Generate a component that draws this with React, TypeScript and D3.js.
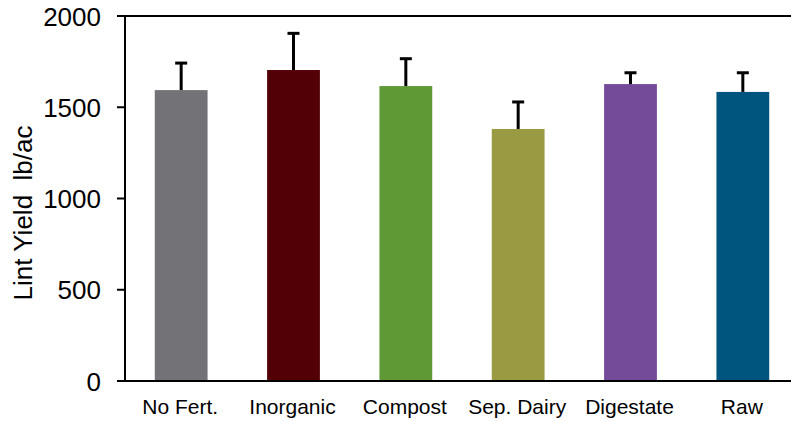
import React from "react";
import * as d3 from "d3";

const categories = ["No Fert.", "Inorganic", "Compost", "Sep. Dairy", "Digestate", "Raw"];
const yieldValues = [1594, 1704, 1616, 1381, 1627, 1584];
const errorTops = [1742, 1905, 1766, 1529, 1689, 1689];
const barColors = ["#737276", "#520006", "#5F9935", "#9A9A42", "#744B98", "#00557F"];
const yTicks = [0, 500, 1000, 1500, 2000];

const W = 791;
const H = 421;
const x0 = 125;
const x1 = 799;
const yTop = 16;
const yBottom = 381;

export default function App() {
  const x = d3.scaleBand<string>().domain(categories).range([x0, x1]).paddingInner(0.53).paddingOuter(0.265);
  const y = d3.scaleLinear().domain([0, 2000]).range([yBottom, yTop]);
  const font = "Liberation Sans, Arial, sans-serif";
  return (
    <svg width={W} height={H} style={{ position: "absolute", left: 0, top: 0, background: "#fff" }}>
      <rect width={W} height={H} fill="#fff" />
      {categories.map((c, i) => {
        const cx = (x(c) as number) + x.bandwidth() / 2;
        return (
          <g key={c}>
            <rect x={x(c)} y={y(yieldValues[i])} width={x.bandwidth()} height={y(0) - y(yieldValues[i])} fill={barColors[i]} />
            <line x1={cx} x2={cx} y1={y(yieldValues[i])} y2={y(errorTops[i])} stroke="#000" strokeWidth={3} />
            <line x1={cx - 6} x2={cx + 6} y1={y(errorTops[i])} y2={y(errorTops[i])} stroke="#000" strokeWidth={3} />
            <text x={cx - 1} y={414} textAnchor="middle" fontFamily={font} fontSize={21} fill="#000">{c}</text>
          </g>
        );
      })}
      <line x1={125} x2={125} y1={yTop} y2={yBottom} stroke="#000" strokeWidth={2} />
      <line x1={117} x2={W} y1={yBottom} y2={yBottom} stroke="#000" strokeWidth={2} />
      <line x1={117} x2={W} y1={yTop} y2={yTop} stroke="#000" strokeWidth={2} />
      {yTicks.map((t) => (
        <g key={t}>
          <line x1={117} x2={125} y1={y(t)} y2={y(t)} stroke="#000" strokeWidth={2} />
          <text x={101} y={y(t) + 9.5} textAnchor="end" fontFamily={font} fontSize={26} fill="#000">{t}</text>
        </g>
      ))}
      <text transform={`translate(32,213) rotate(-90)`} textAnchor="middle" fontFamily={font} fontSize={26} fill="#000" style={{ whiteSpace: "pre" }}>{"Lint Yield  lb/ac"}</text>
    </svg>
  );
}
